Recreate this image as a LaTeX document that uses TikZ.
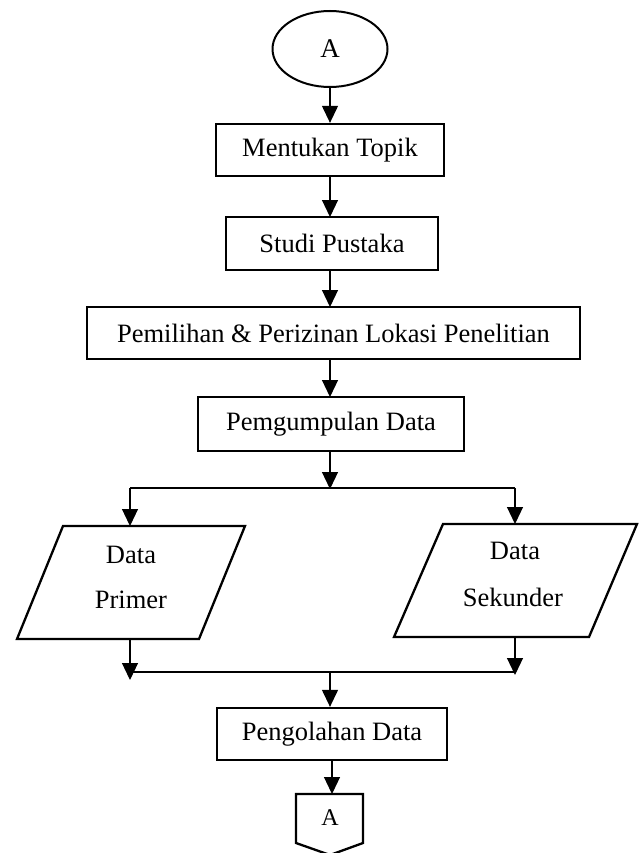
\documentclass[tikz,border=0pt]{standalone}
\usepackage{fontspec}
\setmainfont{Liberation Serif}
\usetikzlibrary{shapes.geometric,arrows.meta}
\tikzset{
  box/.style={draw,rectangle,line width=2.3pt,inner sep=0pt,font=\fontsize{26.5}{32}\selectfont},
  lbl/.style={inner sep=0pt,font=\fontsize{26.5}{32}\selectfont},
  shapeline/.style={draw,line width=2.3pt,line join=miter},
  conn/.style={line width=1.2pt,-{Triangle[length=17pt,width=16pt]}},
  plain/.style={line width=1.2pt},
}
\begin{document}
\begin{tikzpicture}[x=1pt,y=-1pt]
\useasboundingbox[fill=white] (0,0) rectangle (643,853);
% start connector
\node[draw,ellipse,line width=2pt,minimum width=115pt,minimum height=76pt,inner sep=0pt,font=\fontsize{27}{32}\selectfont] (start) at (330,49) {A};
% process boxes
\node[box,minimum width=228pt,minimum height=52pt] (topik) at (330,150) {Mentukan Topik};
\node[box,minimum width=212pt,minimum height=53pt] (studi) at (332,243.5) {Studi Pustaka};
\node[box,minimum width=493pt,minimum height=52pt] (lokasi) at (333.5,333) {Pemilihan \& Perizinan Lokasi Penelitian};
\node[box,minimum width=266pt,minimum height=54pt] (kumpul) at (331,424) {Pemgumpulan Data};
\node[box,minimum width=230pt,minimum height=52pt] (olah) at (332,734) {Pengolahan Data};
% parallelograms (input/output)
\draw[shapeline] (63,526) -- (245,526) -- (199,639) -- (17,639) -- cycle;
\draw[shapeline] (443,524) -- (637,524) -- (589,637) -- (394,637) -- cycle;
\node[lbl,anchor=base] (dp1) at (131,563) {Data};
\node[lbl,anchor=base] (dp2) at (131,608) {Primer};
\node[lbl,anchor=base] (ds1) at (515,559) {Data};
\node[lbl,anchor=base] (ds2) at (513,606) {Sekunder};
\coordinate (ptop) at (130,526);
\coordinate (pbot) at (130,639);
\coordinate (stop) at (515,524);
\coordinate (sbot) at (515,637);
% off-page connector
\draw[shapeline] (296,794) -- (363,794) -- (363,843) -- (330,855) -- (296,843) -- cycle;
\node[inner sep=0pt,font=\fontsize{24}{28}\selectfont] (endA) at (330,818) {A};
\coordinate (endtop) at (330,794);
% split / merge lines
\coordinate (splitC) at (330,488);
\coordinate (splitL) at (130,488);
\coordinate (splitR) at (515,488);
\coordinate (mergeC) at (330,672);
\coordinate (mergeL) at (130,672);
\coordinate (mergeR) at (515,672);
% connectors
\draw[conn] (start.south) -- (start.south |- topik.north);
\draw[conn] (330,176) -- (330,217);
\draw[conn] (330,270) -- (330,307);
\draw[conn] (330,359) -- (330,397);
\draw[conn] (330,451) -- ([yshift=-1pt]splitC);
\draw[plain] (splitL) -- (splitR);
\draw[conn] (splitL) -- (ptop);
\draw[conn] (splitR) -- (stop);
\draw[conn] (pbot) -- ([yshift=-8pt]mergeL);
\draw[conn] (sbot) -- ([yshift=-3pt]mergeR);
\draw[plain] (mergeL) -- (mergeR);
\draw[conn] (mergeC) -- (mergeC |- olah.north);
\draw[conn] (olah.south) -- (olah.south |- endtop);
\end{tikzpicture}
\end{document}
